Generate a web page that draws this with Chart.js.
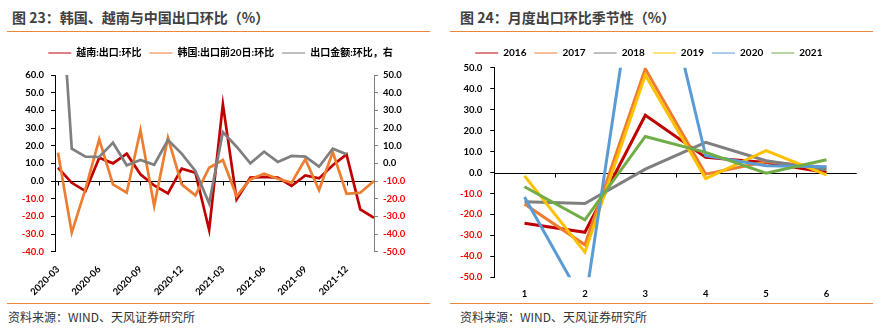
<!DOCTYPE html>
<html>
<head>
<meta charset="utf-8">
<script src="https://cdn.jsdelivr.net/npm/chart.js@4.4.0/dist/chart.umd.min.js"></script>
<style>
body { margin: 0; width: 883px; height: 329px; background: #fff; position: relative; overflow: hidden; font-family: "Noto Sans CJK SC", sans-serif; }
.title { position: absolute; top: 7px; font-size: 14px; line-height: 20px; font-weight: bold; color: #404040; white-space: nowrap; }
.rule { position: absolute; height: 1px; background: #E9873A; }
.src { position: absolute; top: 309px; font-size: 12px; line-height: 16px; color: #333; white-space: nowrap; }
canvas { position: absolute; top: 36px; }
</style>
</head>
<body>
<div class="title" style="left:12px">图 23：韩国、越南与中国出口环比（%）</div>
<div class="rule" style="left:7px;width:423px;top:31px"></div>
<canvas id="left" width="441" height="264" style="left:0"></canvas>
<div class="rule" style="left:7px;width:423px;top:303px"></div>
<div class="src" style="left:8px">资料来源：WIND、天风证券研究所</div>

<div class="title" style="left:460px">图 24：月度出口环比季节性（%）</div>
<div class="rule" style="left:450px;width:423px;top:31px"></div>
<canvas id="right" width="442" height="264" style="left:441px"></canvas>
<div class="rule" style="left:450px;width:423px;top:303px"></div>
<div class="src" style="left:460px">资料来源：WIND、天风证券研究所</div>

<script>
// 月度环比，%
var months = ['2020-03', '2020-04', '2020-05', '2020-06', '2020-07', '2020-08', '2020-09', '2020-10',
    '2020-11', '2020-12', '2021-01', '2021-02', '2021-03', '2021-04', '2021-05', '2021-06',
    '2021-07', '2021-08', '2021-09', '2021-10', '2021-11', '2021-12', '2022-01', '2022-02'];
var vietnam = [7.5, -1, -5.7, 13.2, 10, 15.5, 3.8, -2.5, -7, 7, 4.7, -27.7,
    43.5, -10.4, 1.9, 2.3, 1.9, -2.8, 3.2, 1.5, 8.9, 15.1, -16, -20.8];
var korea20 = [16, -29.2, -4.5, 23.6, -1.9, -6.6, 28.7, -14.2, 24.5, -1.9, -8.1, 7.5,
    11.9, -8.5, 0.9, 4.2, 1.3, -0.9, 12.3, -5.1, 16.4, -7.2, -6.6, 0];
// 中国出口金额环比，右轴
var chinaExport = [125, 8.3, 3.8, 3.6, 11.7, -1.1, 1.9, -0.8, 13.2, 5.5, -4.3, -22.6,
    17.7, 9.4, 0, 6.6, 0.8, 4.2, 3.8, -1.9, 8.3, 5.1, null, null];

// 季节性：1-6月
var seasonMonths = ['1', '2', '3', '4', '5', '6'];
var y2016 = [-24.2, -28.5, 27.3, 7.2, 4.8, 0];
var y2017 = [-15, -34.5, 49.5, -0.8, 5.1, 2.4];
var y2018 = [-14, -14.8, 1.6, 14.4, 5.6, 1.3];
var y2019 = [-1.6, -38, 46.5, -2.9, 10.4, -1.1];
var y2020 = [-11.7, -63, 129, 8, 3.2, 2.7];
var y2021 = [-6.8, -22.6, 17.2, 9.6, -0.3, 6.1];

var tickFont = { family: 'Lato, "Noto Sans CJK SC"', size: 9.5, weight: 'bold' };
var legendFont = { family: 'Lato, "Noto Sans CJK SC"', size: 10, weight: 'bold' };

function negRed(c) {
    return c.tick && c.tick.value < 0 ? '#FF0000' : '#000';
}
function fmt(v) {
    return v.toFixed(1);
}
function toPoints(arr) {
    return arr.map(function (v, i) { return { x: i, y: v }; });
}

// 零轴 + 刻度线
var zeroLine = {
    id: 'zeroLine',
    beforeDatasetsDraw: function (chart, args, opts) {
        var ctx = chart.ctx, area = chart.chartArea;
        var xs = chart.scales.x;
        var y = Math.round(chart.scales.y.getPixelForValue(0)) + 0.5;
        var marks = [];
        if (opts.between) {
            for (var i = 0; i < xs.ticks.length - 1; ++i) {
                marks.push(xs.getPixelForValue(i + 0.5));
            }
        } else {
            marks = xs.ticks.map(function (t) { return xs.getPixelForValue(t.value); });
        }
        ctx.save();
        ctx.strokeStyle = '#000';
        ctx.lineWidth = 1;
        ctx.beginPath();
        ctx.moveTo(area.left, y);
        ctx.lineTo(area.right, y);
        marks.forEach(function (px) {
            px = Math.round(px) + 0.5;
            ctx.moveTo(px, y);
            ctx.lineTo(px, y + 4);
        });
        ctx.stroke();
        ctx.restore();
    }
};

function legendHeight(h) {
    return {
        id: 'legendHeight',
        beforeInit: function (chart) {
            var fit = chart.legend.fit;
            chart.legend.fit = function () {
                fit.call(this);
                this.height = h;
            };
        }
    };
}

var legendOpts = {
    position: 'top',
    labels: {
        usePointStyle: true,
        pointStyle: 'line',
        pointStyleWidth: 23,
        padding: 8,
        color: '#000',
        font: legendFont,
        sort: function (a, b) { return a.datasetIndex - b.datasetIndex; }
    }
};

new Chart(document.getElementById('left'), {
    type: 'line',
    data: {
        datasets: [
            { label: '越南:出口:环比', data: toPoints(vietnam), borderColor: '#C00000', backgroundColor: '#C00000', yAxisID: 'y', order: 3 },
            { label: '韩国:出口前20日:环比', data: toPoints(korea20), borderColor: '#ED7D31', backgroundColor: '#ED7D31', yAxisID: 'y', order: 2 },
            { label: '出口金额:环比，右', data: toPoints(chinaExport), borderColor: '#7F7F7F', backgroundColor: '#7F7F7F', yAxisID: 'y1', order: 1 }
        ]
    },
    options: {
        responsive: false,
        animation: false,
        layout: { padding: { top: 4, left: 0, right: 0, bottom: 0 } },
        elements: { line: { borderWidth: 2.7, tension: 0 }, point: { radius: 0 } },
        scales: {
            x: {
                type: 'linear', min: -0.22, max: 23,
                afterBuildTicks: function (s) {
                    s.ticks = months.map(function (m, i) { return { value: i }; })
                        .filter(function (t) { return t.value % 3 === 0; });
                },
                ticks: {
                    callback: function (v) { return months[v]; },
                    minRotation: 45, maxRotation: 45, autoSkip: false,
                    padding: 4, color: '#000', font: tickFont
                },
                grid: { display: false },
                border: { display: false },
                afterFit: function (s) { s.height = 48.3; }
            },
            y: {
                position: 'left', min: -40, max: 60,
                ticks: { stepSize: 10, callback: fmt, color: negRed, font: tickFont, padding: 7 },
                grid: { drawOnChartArea: false, tickLength: 4, color: '#000' },
                border: { color: '#000' },
                afterFit: function (s) { s.width = 55; }
            },
            y1: {
                position: 'right', min: -50, max: 50,
                ticks: { stepSize: 10, callback: fmt, color: negRed, font: tickFont, padding: 5 },
                grid: { drawOnChartArea: false, tickLength: 4, color: '#808080' },
                border: { color: '#808080' },
                afterFit: function (s) { s.width = 67; }
            }
        },
        plugins: { legend: legendOpts, tooltip: { enabled: false }, zeroLine: {} }
    },
    plugins: [zeroLine, legendHeight(35)]
});

var yearColors = ['#C00000', '#ED7D31', '#7F7F7F', '#FFC000', '#5B9BD5', '#70AD47'];
var yearSeries = [y2016, y2017, y2018, y2019, y2020, y2021];
var yearNames = ['2016', '2017', '2018', '2019', '2020', '2021'];

new Chart(document.getElementById('right'), {
    type: 'line',
    data: {
        labels: seasonMonths,
        datasets: yearSeries.map(function (s, i) {
            return { label: yearNames[i], data: s, borderColor: yearColors[i], backgroundColor: yearColors[i], order: yearSeries.length - i };
        })
    },
    options: {
        responsive: false,
        animation: false,
        layout: { padding: { top: 4, left: 0, right: 26.3, bottom: 0 } },
        elements: { line: { borderWidth: 3, tension: 0 }, point: { radius: 0 } },
        scales: {
            x: {
                type: 'category', offset: true,
                ticks: { padding: 3, color: '#000', font: tickFont },
                grid: { display: false },
                border: { display: false },
                afterFit: function (s) { s.height = 22.7; }
            },
            y: {
                min: -50, max: 50,
                ticks: { stepSize: 10, callback: fmt, color: negRed, font: tickFont, padding: 8 },
                grid: { drawOnChartArea: false, tickLength: 4, color: '#000' },
                border: { color: '#000' },
                afterFit: function (s) { s.width = 53.3; }
            }
        },
        plugins: { legend: legendOpts, tooltip: { enabled: false }, zeroLine: { between: true } }
    },
    plugins: [zeroLine, legendHeight(27.7)]
});
</script>
</body>
</html>
